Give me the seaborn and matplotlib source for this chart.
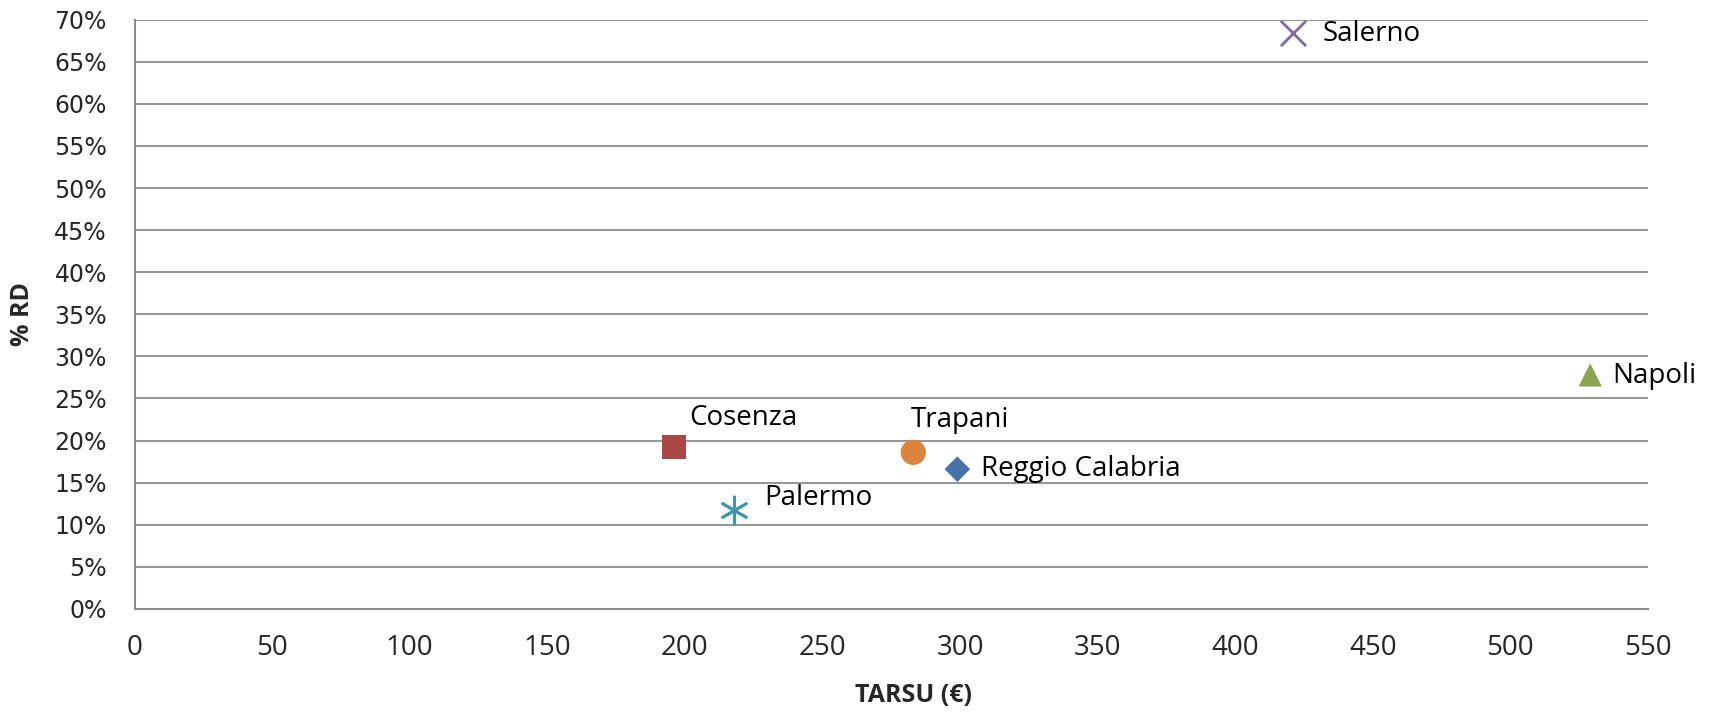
import matplotlib
matplotlib.use("Agg")
import matplotlib.pyplot as plt
import pandas as pd
import seaborn as sns
from matplotlib.ticker import FuncFormatter

# Dati: TARSU (€) e percentuale di raccolta differenziata
cities = ["Reggio Calabria", "Cosenza", "Napoli", "Salerno", "Palermo", "Trapani"]
tarsu = [299, 196, 529, 421, 218, 283]
rd_pct = [16.6, 19.2, 27.8, 68.4, 11.8, 18.6]

x_ticks = list(range(0, 551, 50))
y_ticks = list(range(0, 71, 5))

df = pd.DataFrame({"city": cities, "tarsu": tarsu, "rd": rd_pct})

# Stile Excel 2007
colors = {"Reggio Calabria": "#4572A7", "Cosenza": "#AA4643", "Napoli": "#89A54E",
          "Salerno": "#80699B", "Palermo": "#3D96AE", "Trapani": "#DB843D"}
markers = {"Reggio Calabria": "D", "Cosenza": "s", "Napoli": "^",
           "Salerno": "x", "Palermo": (6, 2, 0), "Trapani": "o"}
sizes = {"Reggio Calabria": 170, "Cosenza": 300, "Napoli": 280,
         "Salerno": 330, "Palermo": 380, "Trapani": 330}
# spostamento etichette in pixel
offsets = {"Reggio Calabria": (24, 0), "Cosenza": (15, 29),
           "Napoli": (22, -1), "Salerno": (30, -1),
           "Palermo": (30, 12), "Trapani": (-3, 32)}

sns.set_style("white")
plt.rcParams["font.family"] = ["Open Sans", "DejaVu Sans"]

fig, ax = plt.subplots(figsize=(17.14, 7.13), dpi=100)
fig.subplots_adjust(left=0.0785, right=0.9615, bottom=0.146, top=0.9724)

for _, row in df.iterrows():
    c = row["city"]
    sub = df[df["city"] == c]
    filled = markers[c] not in ("x", (6, 2, 0))
    kw = dict(edgecolor="none") if filled else dict(linewidth=2)
    sns.scatterplot(data=sub, x="tarsu", y="rd", ax=ax, marker=markers[c],
                    color=colors[c], s=sizes[c], zorder=3, legend=False, **kw)
    dx, dy = offsets[c]
    ax.annotate(c, (row["tarsu"], row["rd"]), xytext=(dx, dy), textcoords="offset pixels",
                ha="left", va="center", fontsize=20, color="black")

ax.set_xlim(0, 550)
ax.set_ylim(0, 70)
ax.set_xticks(x_ticks)
ax.set_yticks(y_ticks)
ax.yaxis.set_major_formatter(FuncFormatter(lambda v, p: f"{int(v)}%"))
ax.tick_params(axis="x", labelsize=20, length=0, pad=18)
ax.tick_params(axis="y", labelsize=17, length=0, pad=20)
for t in ax.get_yticklabels():
    t.set_family("DejaVu Sans")

ax.grid(axis="y", color="#8c8c8c", linewidth=1.3, zorder=0)
ax.grid(axis="x", visible=False)
for s in ["top", "right"]:
    ax.spines[s].set_visible(False)
for s in ["left", "bottom"]:
    ax.spines[s].set_color("#8c8c8c")
    ax.spines[s].set_linewidth(1.5)

ax.set_xlabel("TARSU (€)", fontsize=18, fontweight="bold")
ax.xaxis.set_label_coords(0.515, -0.125)
ax.set_ylabel("% RD", fontsize=18, fontweight="bold")
ax.yaxis.set_label_coords(-0.066, 0.5)

fig.savefig("out.png", dpi=100, facecolor="white")
